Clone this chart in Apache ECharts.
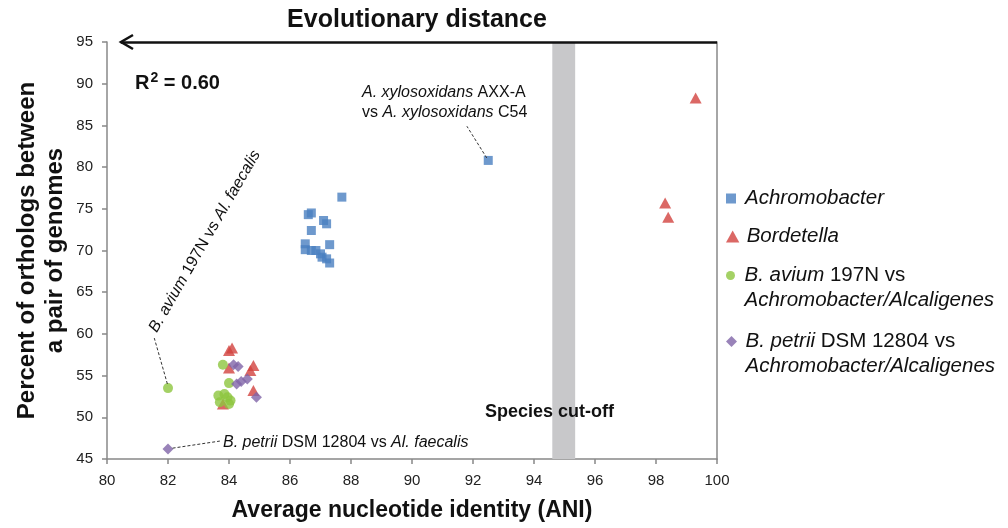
<!DOCTYPE html>
<html>
<head>
<meta charset="utf-8">
<title>ANI vs orthologs</title>
<script src="https://cdn.jsdelivr.net/npm/echarts@6/dist/echarts.min.js"></script>
<style>
html, body { margin: 0; padding: 0; background: #fff; }
#mychart { width: 1008px; height: 528px; }
</style>
</head>
<body>
<div id="mychart"></div>
<script>
var FONT = '"Liberation Sans", Arial, sans-serif';

// [ANI, percent of orthologs]
var achromobacter = [
	[86.5, 70.8], [86.5, 70.1], [86.7, 70.0], [86.85, 70.0], [87.0, 69.6],
	[87.05, 69.2], [87.2, 69.0], [87.3, 68.5], [87.3, 70.7], [86.7, 72.4],
	[87.1, 73.6], [87.2, 73.2], [86.6, 74.3], [86.7, 74.5], [87.7, 76.4],
	[92.5, 80.8]
];
var bordetella = [
	[99.3, 88.3], [98.3, 75.7], [98.4, 74.0], [84.0, 58.0], [84.1, 58.3],
	[84.0, 55.9], [84.8, 56.2], [84.7, 55.6], [84.8, 53.2], [83.8, 51.6]
];
var aviumVsAchro = [
	[82.0, 53.5], [83.8, 56.3], [84.0, 54.1], [83.65, 52.6], [83.85, 52.8],
	[83.95, 52.4], [84.05, 52.0], [83.7, 51.8], [84.0, 51.6]
];
var petriiVsAchro = [
	[82.0, 46.2], [84.15, 56.3], [84.3, 56.1], [84.6, 54.6], [84.4, 54.3],
	[84.25, 54.0], [84.9, 52.4]
];
var cutoff = [94.6, 95.35];
var xRange = [80, 100, 2];
var yRange = [45, 95, 5];

var names = [
	'Achromobacter',
	'Bordetella',
	'B. avium 197N vs Achromobacter/Alcaligenes',
	'B. petrii DSM 12804 vs Achromobacter/Alcaligenes'
];
var colors = ['#4A7FC1', '#D2423E', '#8DC63F', '#8064A8'];

var legendRich = {
	i: { fontFamily: FONT, fontSize: 20.5, fontStyle: 'italic', color: '#111', lineHeight: 25 },
	n: { fontFamily: FONT, fontSize: 20.5, color: '#111', lineHeight: 25 }
};

function legendItem(name, icon, h, top, label) {
	return {
		data: [{ name: name, icon: icon }],
		left: 726,
		top: top,
		padding: 0,
		itemWidth: 18,
		itemHeight: h,
		symbolKeepAspect: true,
		selectedMode: false,
		formatter: function() { return label; },
		textStyle: { fontFamily: FONT, fontSize: 20.5, color: '#111', lineHeight: 25, rich: legendRich }
	};
}

var annRich = {
	i: { fontFamily: FONT, fontSize: 16, fontStyle: 'italic', fill: '#111' },
	n: { fontFamily: FONT, fontSize: 16, fill: '#111' }
};

var myChart = echarts.init(document.getElementById('mychart'));

var option = {
	animation: false,
	backgroundColor: '#fff',
	color: colors,
	grid: { left: 107, right: 291, top: 42, bottom: 69 },
	legend: [
		legendItem(names[0], 'path://M0,0L10,0L10,10L0,10Z', 10, 186, '{i|Achromobacter}'),
		legendItem(names[1], 'path://M5,0L10,9L0,9Z', 12, 224, '{i|Bordetella}'),
		legendItem(names[2], 'circle', 9, 238, '{n| }\n{i|B. avium}{n| 197N vs}\n{i|Achromobacter/Alcaligenes}'),
		legendItem(names[3], 'path://M5,0L10,5L5,10L0,5Z', 11, 304, '{n| }\n{i|B. petrii}{n| DSM 12804 vs}\n{i|Achromobacter/Alcaligenes}')
	],
	xAxis: {
		type: 'value',
		min: xRange[0], max: xRange[1], interval: xRange[2],
		name: 'Average nucleotide identity (ANI)',
		nameLocation: 'middle',
		nameGap: 40,
		nameTextStyle: { fontFamily: FONT, fontSize: 23, fontWeight: 'bold', color: '#111' },
		axisLine: { lineStyle: { color: '#888', width: 1.5 } },
		axisTick: { show: true, length: 5, lineStyle: { color: '#888', width: 1.5 } },
		axisLabel: { fontFamily: FONT, fontSize: 15, color: '#222', margin: 14 },
		splitLine: { show: false }
	},
	yAxis: [{
		type: 'value',
		min: yRange[0], max: yRange[1], interval: yRange[2],
		name: 'Percent of orthologs between\na pair of genomes',
		nameLocation: 'middle',
		nameGap: 38,
		nameMoveOverlap: false,
		nameTextStyle: { fontFamily: FONT, fontSize: 24, fontWeight: 'bold', color: '#111', lineHeight: 28 },
		axisLine: { show: true, lineStyle: { color: '#888', width: 1.5 } },
		axisTick: { show: true, length: 5, lineStyle: { color: '#888', width: 1.5 } },
		axisLabel: { fontFamily: FONT, fontSize: 15, color: '#222', margin: 14 },
		splitLine: { show: false }
	}, {
		type: 'value',
		position: 'right',
		min: yRange[0], max: yRange[1],
		axisLine: { show: true, lineStyle: { color: '#888', width: 1.5 } },
		axisTick: { show: false },
		axisLabel: { show: false },
		splitLine: { show: false }
	}],
	series: [{
		name: names[0],
		type: 'scatter',
		symbol: 'rect',
		symbolSize: 9,
		data: achromobacter,
		markArea: {
			silent: true,
			itemStyle: { color: '#C8C8CA' },
			data: [[{ xAxis: cutoff[0], yAxis: yRange[0] }, { xAxis: cutoff[1], yAxis: yRange[1] }]]
		},
		markLine: {
			silent: true,
			symbol: 'none',
			label: { show: false },
			lineStyle: { color: '#333', width: 1, type: [3, 2] },
			data: [
				[{ coord: [92.45, 81.1] }, { coord: [91.8, 84.9] }],
				[{ coord: [81.98, 54.0] }, { coord: [81.55, 59.5] }],
				[{ coord: [82.15, 46.3] }, { coord: [83.7, 47.15] }]
			]
		}
	}, {
		name: names[1],
		type: 'scatter',
		symbol: 'triangle',
		symbolSize: [12, 11],
		data: bordetella,
		markLine: {
			silent: true,
			symbol: 'none',
			label: { show: false },
			lineStyle: { color: '#111', width: 2.5, type: 'solid' },
			data: [[{ coord: [100, 95] }, { coord: [80.45, 95] }]]
		}
	}, {
		name: names[2],
		type: 'scatter',
		symbol: 'circle',
		symbolSize: 10,
		data: aviumVsAchro
	}, {
		name: names[3],
		type: 'scatter',
		symbol: 'diamond',
		symbolSize: 11,
		data: petriiVsAchro
	}],
	graphic: [
		{ type: 'polyline', z: 100, shape: { points: [[133, 35], [121, 42], [133, 49]] }, style: { stroke: '#111', lineWidth: 2.5, fill: null } },
		{ type: 'text', z: 100, x: 417, y: 20, style: { text: 'Evolutionary distance', textAlign: 'center', textVerticalAlign: 'middle', fontFamily: FONT, fontSize: 25, fontWeight: 'bold', fill: '#111' } },
		{ type: 'text', z: 100, x: 135, y: 82, style: { text: '{b|R}{s|2}{b| = 0.60}', textVerticalAlign: 'middle', rich: {
			b: { fontFamily: FONT, fontSize: 20, fontWeight: 'bold', fill: '#111', lineHeight: 22, verticalAlign: 'bottom' },
			s: { fontFamily: FONT, fontSize: 14, fontWeight: 'bold', fill: '#111', lineHeight: 22, verticalAlign: 'top', padding: [0, 0, 10, 1] }
		} } },
		{ type: 'text', z: 100, x: 485, y: 412, style: { text: 'Species cut-off', textVerticalAlign: 'middle', fontFamily: FONT, fontSize: 18, fontWeight: 'bold', fill: '#111' } },
		{ type: 'text', z: 100, x: 362, y: 103, style: { text: '{i|A. xylosoxidans}{n| AXX-A}\n{n|vs }{i|A. xylosoxidans}{n| C54}', textVerticalAlign: 'middle', lineHeight: 20, rich: annRich } },
		{ type: 'text', z: 100, x: 223, y: 443, style: { text: '{i|B. petrii}{n| DSM 12804 vs }{i|Al. faecalis}', textVerticalAlign: 'middle', rich: annRich } },
		{ type: 'text', z: 100, x: 153, y: 331, rotation: Math.PI / 3, style: { text: '{i|B. avium}{n| 197N vs }{i|Al. faecalis}', textVerticalAlign: 'middle', rich: annRich } }
	]
};

myChart.setOption(option);
window.onresize = function() {
	myChart.resize();
};
</script>
</body>
</html>
